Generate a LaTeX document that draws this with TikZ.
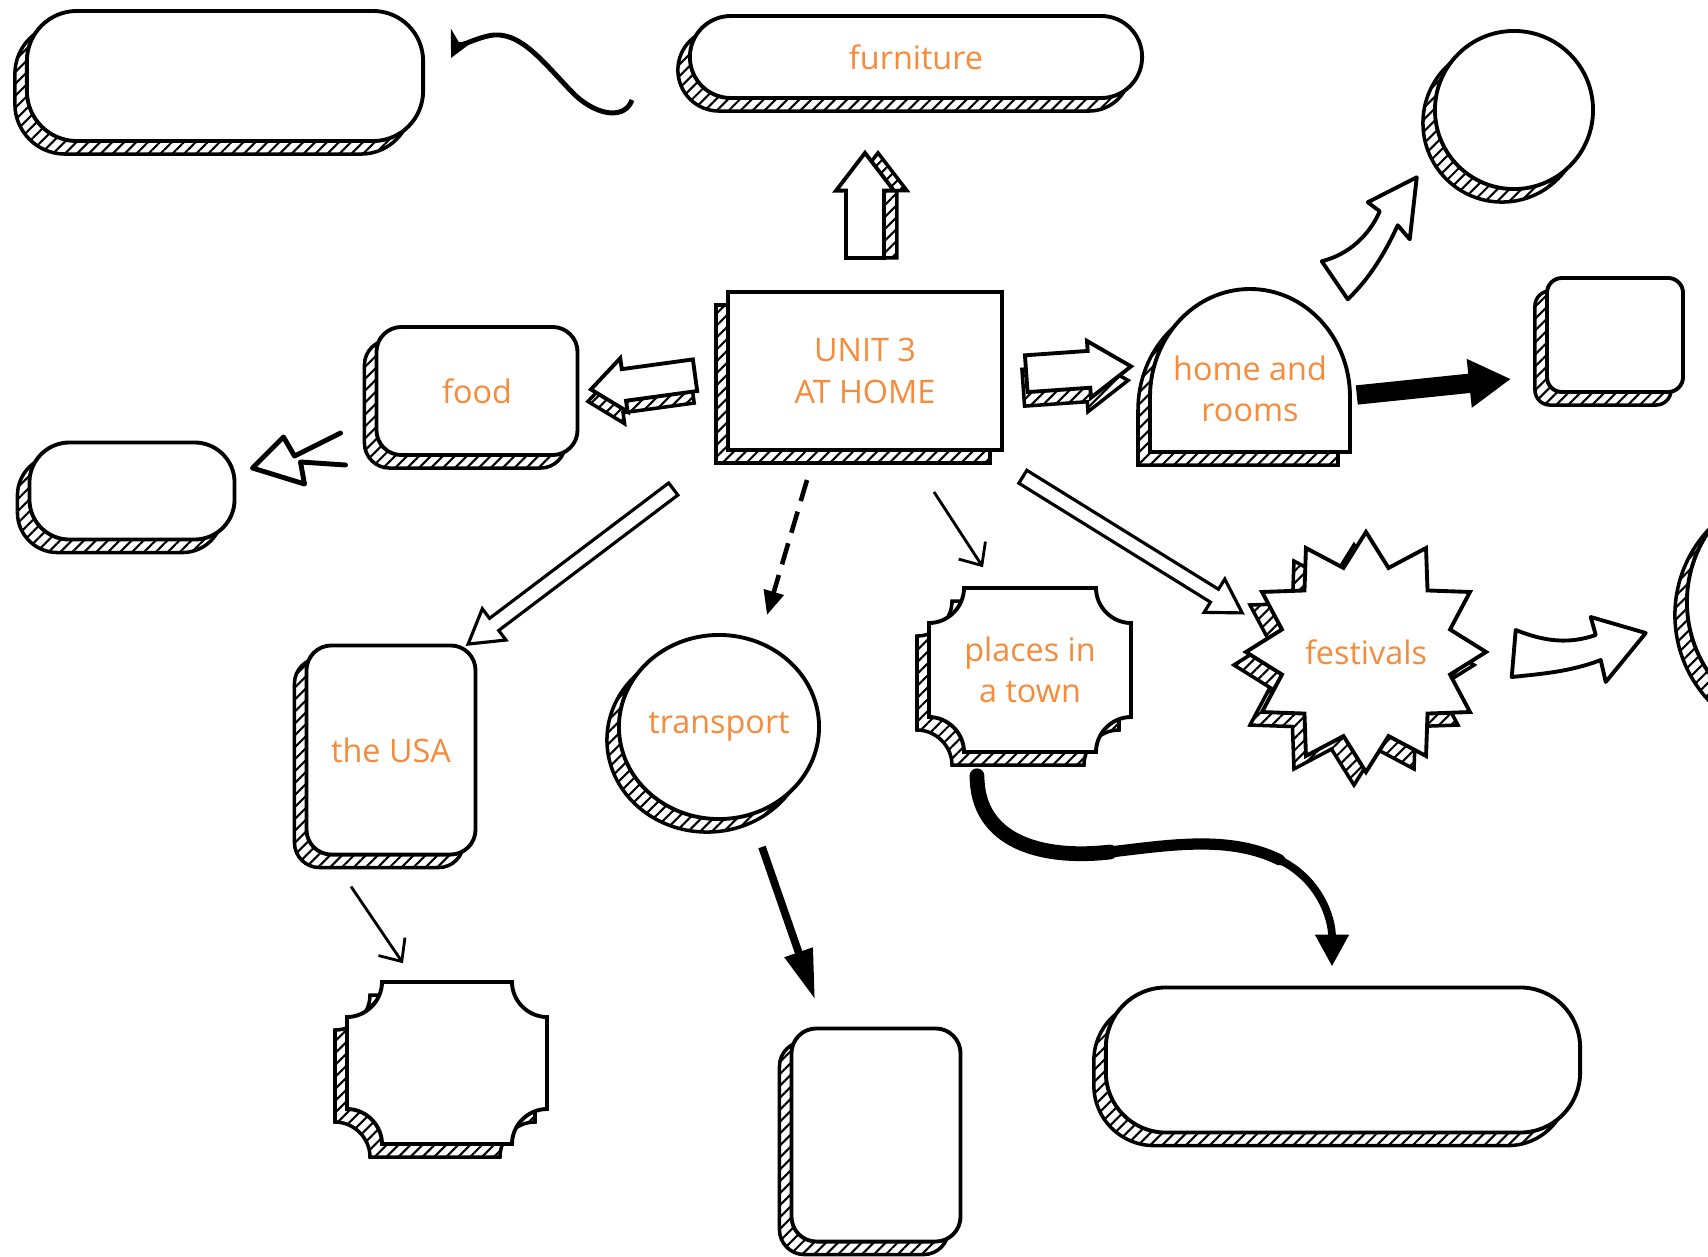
\documentclass[tikz,border=0pt]{standalone}
\usepackage{fontspec}
\setmainfont{Open Sans}
\usetikzlibrary{shapes.geometric,shapes.arrows,shadows,patterns.meta,arrows.meta}
\definecolor{penorange}{RGB}{245,139,59}
\tikzset{
  hatched/.style={draw,line width=1.1pt,fill=white,general shadow={shadow xshift=-1.2mm,shadow yshift=-1.3mm,draw,line width=1pt,pattern={Lines[angle=45,distance=2.4pt,line width=.6pt]},#1}},
  hatched/.default={},
  lbl/.style={text=penorange,font=\fontsize{9.2}{11.8}\selectfont,align=center,inner sep=0pt},
  blockarrow/.style={single arrow,hatched={#1},inner xsep=0pt,minimum height=1.05cm},
  blockarrow/.default={},
  hollow/.style={single arrow,draw,line width=.9pt,fill=white,inner xsep=0pt,inner ysep=.06cm,sloped,allow upside down,single arrow head extend=.12cm,single arrow tip angle=62},
  bentarrow/.style={draw,line width=1.1pt,fill=white,line join=round},
  thinarr/.style={line width=.8pt,-{Straight Barb[length=1.8mm,width=3.2mm]}}
}
\begin{document}
\begin{tikzpicture}[x=0.01cm,y=-0.01cm]
\useasboundingbox (0,0) rectangle (1708,1257);
\foreach \nm/\cx/\cy/\w/\h/\rc in {tl/225/76/3.96/1.30/5,sml/132/491/2.05/.97/4,sq/1615/335/1.36/1.14/1.5,bt/876/1135/1.69/2.13/2.5,br/1343/1060/4.74/1.45/6}
  \node[hatched,rounded corners=\rc mm,minimum width=\w cm,minimum height=\h cm](\nm)at(\cx,\cy){};
\node[hatched,circle,minimum size=1.58cm](circ)at(1514,110){};
\node[hatched,circle,minimum size=2.5cm](far)at(1812,602){};
\node[hatched,lbl,rounded corners=4.1mm,minimum width=4.52cm,minimum height=.82cm](furn)at(916,57){furniture};
\node[hatched,lbl,minimum width=2.74cm,minimum height=1.58cm](unit)at(865,371){UNIT 3\\AT HOME};
\node[hatched,lbl,rounded corners=2.5mm,minimum width=2.01cm,minimum height=1.28cm](food)at(477,391){food};
\node[hatched,lbl,rounded corners=2.5mm,minimum width=1.69cm,minimum height=2.09cm](usa)at(391,750){the USA};
\node[hatched,lbl,ellipse,minimum width=2cm,minimum height=1.84cm](trans)at(719,727){transport};
\node[hatched,lbl,star,star points=12,star point ratio=1.38,minimum size=2.4cm](fest)at(1366,652){festivals};
\draw[hatched](1150,452)--++(0,-55)arc[start angle=180,end angle=360,x radius=100,y radius=108]--(1350,452)--cycle;
\node[lbl,minimum width=2cm,minimum height=1.26cm](home)at(1250,389){home and\\rooms};
\foreach \nm/\cx/\cy/\a/\b/\txt in {places/1030/670/101/82/{places in\\a town},bl/447/1063/100/81/{}}{
  \draw[hatched](\cx-\a,\cy-\b+35)..controls(\cx-\a+19,\cy-\b+35)and(\cx-\a+35,\cy-\b+19)..(\cx-\a+35,\cy-\b)
    --(\cx+\a-35,\cy-\b)..controls(\cx+\a-35,\cy-\b+19)and(\cx+\a-19,\cy-\b+35)..(\cx+\a,\cy-\b+35)
    --(\cx+\a,\cy+\b-35)..controls(\cx+\a-19,\cy+\b-35)and(\cx+\a-35,\cy+\b-19)..(\cx+\a-35,\cy+\b)
    --(\cx-\a+35,\cy+\b)..controls(\cx-\a+35,\cy+\b-19)and(\cx-\a+19,\cy+\b-35)..(\cx-\a,\cy+\b-35)--cycle;
  \node[lbl,minimum width=\a*0.02cm,minimum height=\b*0.02cm](\nm)at(\cx,\cy){\txt};
}
\path(unit.north)--node[blockarrow={shadow xshift=1.3mm,shadow yshift=0mm},rotate=90,pos=.38,inner ysep=.17cm,single arrow head extend=.1cm,single arrow tip angle=75](up){}(unit.north|-furn.south);
\path(unit.west)--node[blockarrow={shadow xshift=-.3mm,shadow yshift=-1.2mm},sloped,allow upside down,inner ysep=.14cm,single arrow head extend=.11cm,single arrow tip angle=78](lft){}(food.east);
\path(unit.east)--node[blockarrow={shadow xshift=-.3mm,shadow yshift=-1.4mm},rotate=4,pos=.42,inner ysep=.165cm,single arrow head extend=.1cm,single arrow tip angle=68](rgt){}(unit.east-|home.west);
\path([shift={(-50,35)}]unit.south west)--node[hollow,minimum height=2.57cm](tousa){}([shift={(-2,-5)}]usa.north east);
\path([shift={(16,23)}]unit.south east)--node[hollow,minimum height=2.58cm](tofest){}([shift={(-8,-44)}]fest.west);
\draw[line width=1.3pt,dash pattern=on 2.2mm off 1.1mm,-{Triangle[length=2.4mm,width=2mm]}]([shift={(-58,28)}]unit.south)--([shift={(48,-18)}]trans.north);
\draw[thinarr]([shift={(69,40)}]unit.south)--([shift={(-47,-20)}]places.north);
\draw[thinarr]([shift={(-40,30)}]usa.south)--([shift={(-44,-18)}]bl.north);
\draw[line width=2.2pt,-{Triangle[length=5mm,width=2.8mm]}]([shift={(43,26)}]trans.south)--([shift={(-61,-27)}]bt.north);
\draw[line width=5.5pt,-{Triangle[length=4.2mm,width=4.6mm]}]([shift={(6,6)}]home.east)--([shift={(-34,-15)}]sq.south west);
\draw[line width=1.4pt,-{Stealth[length=2.6mm,width=2.6mm]}]([shift={(-56,43)}]furn.west)..controls +(-6,18)and(600,118)..(575,95)..controls(545,65)and(520,28)..(488,36)..controls(470,40)and(455,50)..([shift={(26,-18)}]tl.east);
\draw[line width=1.4pt,line join=round,line cap=round]([shift={(-34,42)}]food.west)--++(-46,23)--++(-11,-19)--([shift={(16,-23)}]sml.east)--++(52,16)--++(-4,-22)--++(45,3);
\draw[bentarrow,shift={(home.north east)}](-29,-64)..controls(-1,-71)and(19,-91)..(29,-114)--(17,-123)--(66,-148)--(59,-86)--(47,-100)..controls(34,-72)and(19,-47)..(-3,-26)--cycle;
\draw[bentarrow,shift={(fest.east)}](26,-22)..controls(56,-10)and(80,-8)..(106,-17)--(101,-35)--(156,-19)--(116,30)--(111,8)..controls(80,20)and(50,22)..(22,25)--cycle;
\draw[line width=2.2pt,line cap=round,-{Triangle[length=3.2mm,width=3.2mm]}]([shift={(-53,23)}]places.south)..controls +(0,65)and(1040,860)..(1110,852)..controls(1170,845)and(1230,835)..(1280,860)..controls(1320,880)and([shift={(-11,-67)}]br.north)..([shift={(-11,-19)}]br.north);
\draw[line width=3.2pt,line cap=round](1110,852)..controls(1170,845)and(1230,835)..(1280,860);
\draw[line width=4.2pt,line cap=round]([shift={(-53,23)}]places.south)..controls +(0,65)and(1040,860)..(1110,852);
\end{tikzpicture}
\end{document}
